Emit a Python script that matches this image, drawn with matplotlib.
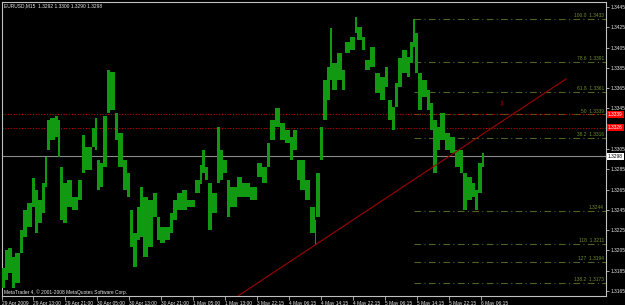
import matplotlib
matplotlib.use("Agg")
import matplotlib.pyplot as plt
import matplotlib.transforms as mtransforms

plt.rcParams['font.family'] = ['Liberation Sans', 'DejaVu Sans']

# ---------------- data ----------------
symbol_text = "EURUSD,M15  1.3292 1.3300 1.3290 1.3298"
footer_text = "MetaTrader 4, \u00a9 2001-2008 MetaQuotes Software Corp."

# bar-index boundaries of price segments (M15 bars) and their high / low
bounds = [0, 3, 6, 10, 13, 18, 21, 25, 30, 33,
          36, 40, 43, 45, 48, 53, 56, 58, 61, 65,
          70, 76, 80, 83, 90, 93, 95, 98, 101, 105,
          108, 113, 116, 121, 125, 128, 131, 135, 138, 141,
          146, 151, 155, 158, 163, 168, 171, 175, 180, 185,
          193, 198, 200, 203, 206, 210, 215, 218, 221, 225,
          228, 235, 240, 248, 255, 260, 265, 268, 273, 278,
          283, 288, 291, 295, 298, 303, 308, 313, 314, 318,
          321, 325, 328, 330, 335, 340, 343, 348, 353, 355,
          360, 363, 368, 373, 378, 383, 386, 390, 393, 396,
          400, 405, 408, 411, 413, 416, 420, 425, 428, 431,
          435, 438, 443, 448, 453, 458, 461, 465, 470, 473,
          476, 480, 482]
highs = [1.3188, 1.3205, 1.3207, 1.3198, 1.3202, 1.3225, 1.3245, 1.3252, 1.3276, 1.3265,
         1.3255, 1.3271, 1.3297, 1.3334, 1.3336, 1.3337, 1.3334, 1.3287, 1.3271, 1.3274,
         1.3258, 1.3274, 1.3319, 1.3307, 1.3326, 1.3336, 1.3294, 1.3291, 1.3337, 1.3383,
         1.3381, 1.3340, 1.3321, 1.3294, 1.3281, 1.3245, 1.3222, 1.3248, 1.3267, 1.3258,
         1.3255, 1.3262, 1.3238, 1.3228, 1.3228, 1.3242, 1.3255, 1.3262, 1.3265, 1.3255,
         1.3274, 1.3289, 1.3304, 1.3287, 1.3271, 1.3262, 1.3327, 1.3304, 1.3294, 1.3274,
         1.3267, 1.3277, 1.3271, 1.3267, 1.3291, 1.3287, 1.3311, 1.3334, 1.3345, 1.3331,
         1.3324, 1.3317, 1.3324, 1.3294, 1.3294, 1.3274, 1.3248, 1.3235, 1.3281, 1.3327,
         1.3373, 1.3386, 1.3424, 1.3390, 1.3400, 1.3383, 1.3410, 1.3415, 1.3435, 1.3425,
         1.3415, 1.3393, 1.3406, 1.3380, 1.3376, 1.3386, 1.3353, 1.3346, 1.3370, 1.3395,
         1.3403, 1.3396, 1.3410, 1.3433, 1.3419, 1.3380, 1.3373, 1.3363, 1.3350, 1.3334,
         1.3327, 1.3340, 1.3321, 1.3317, 1.3304, 1.3304, 1.3281, 1.3277, 1.3271, 1.3265,
         1.3291, 1.3301]
lows = [1.3168, 1.3176, 1.3183, 1.3168, 1.3173, 1.3202, 1.3218, 1.3228, 1.3248, 1.3222,
        1.3232, 1.3242, 1.3267, 1.3304, 1.3314, 1.3317, 1.3297, 1.3235, 1.3232, 1.3248,
        1.3245, 1.3255, 1.3281, 1.3284, 1.3307, 1.3304, 1.3265, 1.3267, 1.3287, 1.3340,
        1.3343, 1.3314, 1.3287, 1.3265, 1.3258, 1.3208, 1.3189, 1.3215, 1.3218, 1.3198,
        1.3208, 1.3238, 1.3215, 1.3212, 1.3215, 1.3222, 1.3235, 1.3245, 1.3245, 1.3248,
        1.3262, 1.3270, 1.3281, 1.3274, 1.3225, 1.3242, 1.3271, 1.3274, 1.3281, 1.3238,
        1.3248, 1.3258, 1.3258, 1.3255, 1.3277, 1.3271, 1.3287, 1.3314, 1.3327, 1.3314,
        1.3311, 1.3294, 1.3304, 1.3274, 1.3265, 1.3255, 1.3222, 1.3210, 1.3238, 1.3294,
        1.3334, 1.3353, 1.3373, 1.3363, 1.3373, 1.3363, 1.3400, 1.3403, 1.3419, 1.3412,
        1.3403, 1.3383, 1.3386, 1.3360, 1.3353, 1.3366, 1.3334, 1.3324, 1.3346, 1.3366,
        1.3380, 1.3376, 1.3390, 1.3406, 1.3380, 1.3343, 1.3356, 1.3343, 1.3324, 1.3281,
        1.3304, 1.3314, 1.3304, 1.3301, 1.3287, 1.3281, 1.3245, 1.3255, 1.3258, 1.3245,
        1.3262, 1.3287]

current_price = 1.3298
red_levels = [1.3339, 1.3326]

fib_names = ["100.0", "78.6", "61.8", "50", "38.2", "", "118", "127", "138.2"]
fib_prices = [1.3433, 1.3391, 1.3361, 1.3339, 1.3316, 1.3244, 1.3211, 1.3194, 1.3173]
fib_start_bar = 412

trend_bars = [236, 564]
trend_prices = [1.3160, 1.3374]
marker_bar, marker_price = 500, 1.3350

y_ticks = [1.3165, 1.3185, 1.3205, 1.3225, 1.3245, 1.3265, 1.3285, 1.3305,
           1.3325, 1.3345, 1.3365, 1.3385, 1.3405, 1.3425, 1.3445]
hidden_y_labels = [1.3325]   # covered by the red price box in the reference
x_tick_bars = [0, 31, 63, 95, 127, 159, 191, 223, 255, 287, 319, 351, 383, 415, 447, 479]
x_tick_labels = ["29 Apr 2009", "29 Apr 13:00", "29 Apr 21:00", "30 Apr 05:00",
                 "30 Apr 13:00", "30 Apr 21:00", "1 May 05:00", "1 May 13:00",
                 "3 May 22:15", "4 May 06:15", "4 May 14:15", "4 May 22:15",
                 "5 May 06:15", "5 May 14:15", "5 May 22:15", "6 May 06:15"]

# ---------------- figure ----------------
W, H = 625, 305
fig = plt.figure(figsize=(W / 100, H / 100), dpi=100, facecolor='black')
ax = fig.add_axes([2 / W, 9 / H, 604 / W, 294 / H])
ax.set_facecolor('black')
ax.set_xlim(0, 604)
ax.set_ylim(1.31600, 1.34499)

FS = 3.5
TXT = '#e8e8e8'

# price bars
starts = bounds[:-1]
widths = [b - a for a, b in zip(bounds[:-1], bounds[1:])]
ax.bar(starts, [h - l for h, l in zip(highs, lows)], bottom=lows, width=widths,
       align='edge', color='#119a11', linewidth=0, zorder=3)

# fib levels
for name, pr in zip(fib_names, fib_prices):
    ax.plot([fib_start_bar, 604], [pr, pr], color='#4b6420', lw=0.8,
            linestyle=(0, (6, 3, 1, 3)), zorder=2)
    lab = (name + "  " if name else "") + f"{pr:.4f}"
    ax.text(602, pr + 0.00008, lab, color='#6f8f2a', fontsize=FS, ha='right',
            va='bottom', zorder=4)

# red horizontal lines
for pr in red_levels:
    ax.axhline(pr, color='#c00000', lw=0.8, linestyle=(0, (1, 1.5)), zorder=2)

# current price line
ax.axhline(current_price, color='#8a8a8a', lw=0.8, zorder=2)

# trend line
ax.plot(trend_bars, trend_prices, color='#a00000', lw=0.8, zorder=4)
ax.text(marker_bar, marker_price, "\u21e9", color='#c00000', fontsize=5,
        ha='center', va='center', family=['DejaVu Sans'], zorder=4)

# spines
for s in ax.spines.values():
    s.set_color('#c0c0c0')
    s.set_linewidth(0.8)

# y axis on right
ax.yaxis.tick_right()
ax.set_yticks(y_ticks)
ax.set_yticklabels(["" if v in hidden_y_labels else f"{v:.4f}" for v in y_ticks])
ax.tick_params(axis='y', colors='#c0c0c0', labelcolor=TXT, labelsize=FS,
               length=2, width=0.6, pad=1.0)

# x axis
ax.set_xticks(x_tick_bars)
ax.set_xticklabels(x_tick_labels)
ax.tick_params(axis='x', colors='#c0c0c0', labelcolor=TXT, labelsize=FS,
               length=3, width=0.6, pad=0.3)
for t in ax.get_xticklabels():
    t.set_horizontalalignment('left')

# price boxes on the right axis
trans = mtransforms.blended_transform_factory(ax.transAxes, ax.transData)
ax.text(1.003, current_price, f"{current_price:.4f}", transform=trans, fontsize=FS,
        color='black', ha='left', va='center', clip_on=False, zorder=6,
        bbox=dict(boxstyle='square,pad=0.2', fc='white', ec='none'))
for pr in red_levels:
    ax.text(1.003, pr, f"{pr:.4f}", transform=trans, fontsize=FS,
            color='white', ha='left', va='center', clip_on=False, zorder=6,
            bbox=dict(boxstyle='square,pad=0.2', fc='#ff0000', ec='none'))

# header / footer text
fig.text(4 / W, 1 - 6 / H, symbol_text, color=TXT, fontsize=FS, ha='left', va='center')
ax.text(2, 0.0135, footer_text,
        transform=mtransforms.blended_transform_factory(ax.transData, ax.transAxes),
        color=TXT, fontsize=FS, ha='left', va='center', zorder=5)

fig.savefig("out.png", dpi=100, facecolor='black')
